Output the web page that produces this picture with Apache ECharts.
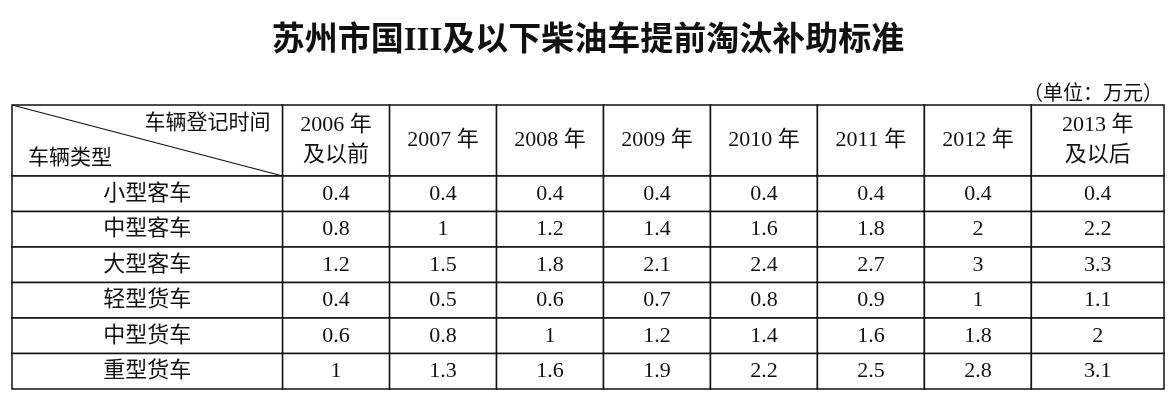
<!DOCTYPE html>
<html>
<head>
<meta charset="utf-8">
<title>苏州市国III及以下柴油车提前淘汰补助标准</title>
<script src="https://cdn.jsdelivr.net/npm/echarts@6/dist/echarts.min.js"></script>
<style>
  html, body { margin: 0; padding: 0; background: #fff; }
  #chart { width: 1176px; height: 406px; }
</style>
</head>
<body>
<div id="chart"></div>
<script>
var years = ['2006 年\n及以前', '2007 年', '2008 年', '2009 年', '2010 年', '2011 年', '2012 年', '2013 年\n及以后'];
var types = ['小型客车', '中型客车', '大型客车', '轻型货车', '中型货车', '重型货车'];
var small_bus  = ['0.4', '0.4', '0.4', '0.4', '0.4', '0.4', '0.4', '0.4'];
var medium_bus = ['0.8', '1', '1.2', '1.4', '1.6', '1.8', '2', '2.2'];
var large_bus  = ['1.2', '1.5', '1.8', '2.1', '2.4', '2.7', '3', '3.3'];
var light_truck  = ['0.4', '0.5', '0.6', '0.7', '0.8', '0.9', '1', '1.1'];
var medium_truck = ['0.6', '0.8', '1', '1.2', '1.4', '1.6', '1.8', '2'];
var heavy_truck  = ['1', '1.3', '1.6', '1.9', '2.2', '2.5', '2.8', '3.1'];
var rows = [small_bus, medium_bus, large_bus, light_truck, medium_truck, heavy_truck];

var FONT = '"Liberation Serif", "Noto Sans CJK SC", serif';
// column widths in units of one year column; last column is wider
var FIRST_W = 2.53, LAST_W = 1.24, HEAD_H = 2;
var N = years.length;

function colSpan(c) {
  if (c < 0) return [0, FIRST_W];
  var x0 = FIRST_W + c;
  return [x0, c === N - 1 ? x0 + LAST_W : x0 + 1];
}

// cells: [row, col, text]; row -1 = header, col -1 = type column
var cells = [[-1, -1, '']];
years.forEach(function (y, j) { cells.push([-1, j, y]); });
types.forEach(function (t, i) {
  cells.push([i, -1, t]);
  rows[i].forEach(function (v, j) { cells.push([i, j, v]); });
});

function renderItem(params, api) {
  var r = api.value(0), c = api.value(1), txt = cells[params.dataIndex][2];
  var xs = colSpan(c);
  var y0 = r < 0 ? 0 : HEAD_H + r, y1 = r < 0 ? HEAD_H : HEAD_H + r + 1;
  var p0 = api.coord([xs[0], y0]), p1 = api.coord([xs[1], y1]);
  var w = p1[0] - p0[0], h = p1[1] - p0[1];
  var children = [{
    type: 'rect', shape: { x: p0[0], y: p0[1], width: w, height: h },
    style: { fill: '#fff', stroke: '#111', lineWidth: 1.5 }
  }];
  if (r < 0 && c < 0) {
    children.push({ type: 'line', shape: { x1: p0[0], y1: p0[1], x2: p1[0], y2: p1[1] },
      style: { stroke: '#111', lineWidth: 1.2 } });
    children.push({ type: 'text', style: { x: p0[0] + w - 12, y: p0[1] + 18, text: '车辆登记时间',
      align: 'right', verticalAlign: 'middle', fontSize: 21, fontFamily: FONT, fill: '#111' } });
    children.push({ type: 'text', style: { x: p0[0] + 16, y: p1[1] - 18, text: '车辆类型',
      align: 'left', verticalAlign: 'middle', fontSize: 21, fontFamily: FONT, fill: '#111' } });
  } else {
    children.push({ type: 'text', style: { x: p0[0] + w / 2, y: p0[1] + h / 2, text: txt,
      align: 'center', verticalAlign: 'middle', fontSize: 22, lineHeight: 30,
      fontFamily: FONT, fill: '#111' } });
  }
  return { type: 'group', children: children };
}

var chart = echarts.init(document.getElementById('chart'));
chart.setOption({
  backgroundColor: '#fff',
  animation: false,
  title: [{
    text: '苏州市国III及以下柴油车提前淘汰补助标准', left: 'center', top: 20,
    textStyle: { fontSize: 33, fontWeight: 'bold', color: '#111', fontFamily: FONT }
  }, {
    text: '（单位：万元）', right: 8, top: 80,
    textStyle: { fontSize: 20, fontWeight: 'normal', color: '#111', fontFamily: FONT }
  }],
  grid: { left: 12, right: 12, top: 105, bottom: 17 },
  xAxis: { type: 'value', min: 0, max: FIRST_W + N - 1 + LAST_W, show: false },
  yAxis: { type: 'value', min: 0, max: HEAD_H + types.length, inverse: true, show: false },
  series: [{
    type: 'custom', renderItem: renderItem, clip: false,
    data: cells.map(function (d) { return [d[0], d[1]]; })
  }]
});
</script>
</body>
</html>
